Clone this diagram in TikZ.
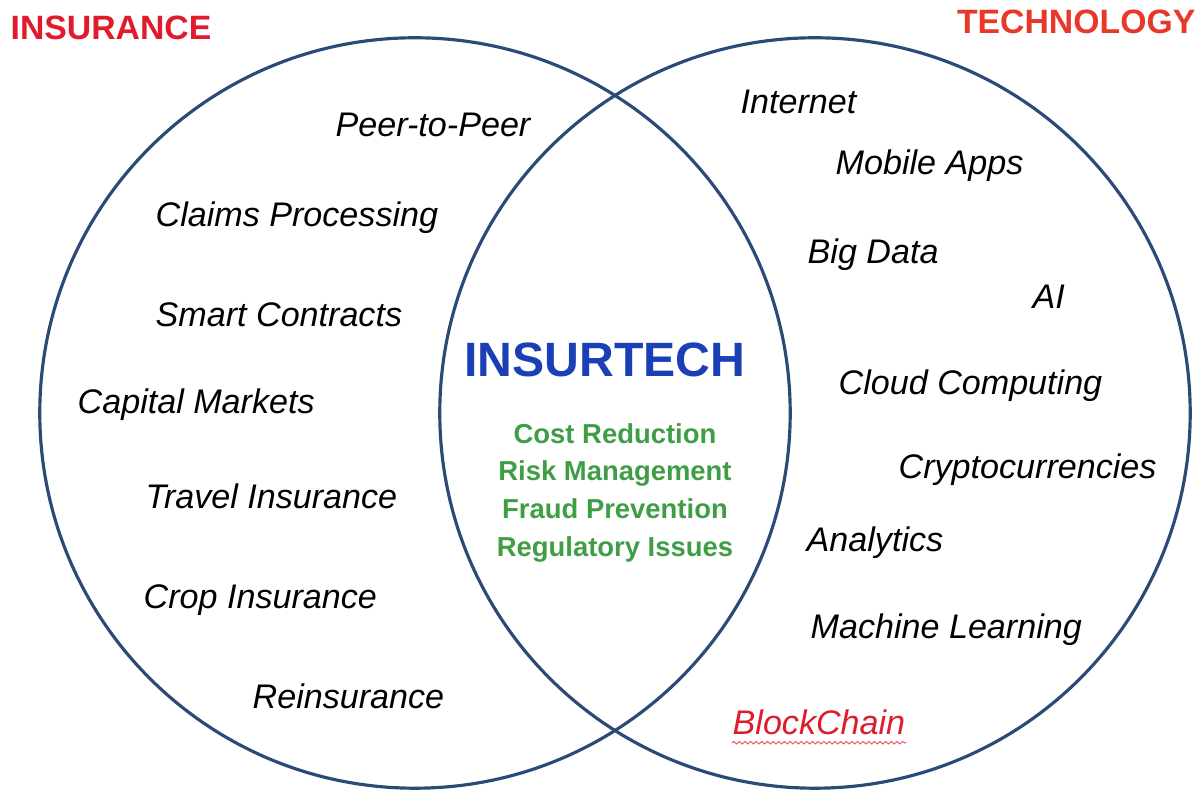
\documentclass[tikz,border=0pt]{standalone}
\usepackage{fontspec}
\setmainfont{Liberation Sans}
\usetikzlibrary{decorations.pathmorphing}
\definecolor{ringblue}{HTML}{2C4A78}
\definecolor{insred}{HTML}{E01B2D}
\definecolor{techred}{HTML}{E8382A}
\definecolor{mixblue}{HTML}{1B3FB4}
\definecolor{gaingreen}{HTML}{3F9E45}
\begin{document}
\begin{tikzpicture}[x=0.01cm, y=-0.01cm,
		item/.style={anchor=base west, inner sep=0pt, font=\fontsize{9.7}{11}\selectfont\itshape},
		corner/.style={anchor=base west, inner sep=0pt, font=\fontsize{9.6}{11}\selectfont\bfseries},
		gain/.style={anchor=base, inner sep=0pt, text=gaingreen, font=\fontsize{7.8}{9}\selectfont\bfseries}]
		%%%%% START %%%%%
		
		\useasboundingbox (0, 0) rectangle (1202, 795);
		
		\draw[line width=0.9pt, color=ringblue] (415, 413) circle (3.75cm);
		\draw[line width=0.9pt, color=ringblue] (815, 413) circle (3.75cm);
		
		\node[corner, text=insred] (insurance) at (10, 40) {INSURANCE};
		\node[corner, text=techred, anchor=base east] (technology) at (1196, 34) {TECHNOLOGY};
		
		\node[item] (peer) at (335, 137) {Peer-to-Peer};
		\node[item] (claims) at (155, 227) {Claims Processing};
		\node[item] (smart) at (155, 327) {Smart Contracts};
		\node[item] (capital) at (77, 414) {Capital Markets};
		\node[item] (travel) at (145, 509) {Travel Insurance};
		\node[item] (crop) at (143, 609) {Crop Insurance};
		\node[item] (reins) at (252, 709) {Reinsurance};
		
		\node[item] (internet) at (740, 114) {Internet};
		\node[item] (mobile) at (835, 175) {Mobile Apps};
		\node[item] (bigdata) at (807, 264) {Big Data};
		\node[item] (ai) at (1032, 309) {AI};
		\node[item] (cloud) at (838, 395) {Cloud Computing};
		\node[item] (crypto) at (898, 479) {Cryptocurrencies};
		\node[item] (analytics) at (806, 552) {Analytics};
		\node[item] (ml) at (810, 639) {Machine Learning};
		\node[item, text=insred] (blockchain) at (732, 735) {BlockChain};
		\draw[insred!70, line width=0.3pt, decorate, decoration={snake, amplitude=0.35pt, segment length=1.6pt}]
			([yshift=-2.2pt]blockchain.base west) -- ([yshift=-2.2pt]blockchain.base east);
		
		\node[anchor=base, inner sep=0pt, text=mixblue, font=\fontsize{13.7}{15}\selectfont\bfseries] (insurtech) at (605, 377) {INSURTECH};
		\node[gain] (cost) at (615, 444) {Cost Reduction};
		\node[gain] (risk) at (615, 481) {Risk Management};
		\node[gain] (fraud) at (615, 519) {Fraud Prevention};
		\node[gain] (regul) at (615, 557) {Regulatory Issues};
		
		%%%%% END %%%%%
	\end{tikzpicture}
\end{document}
